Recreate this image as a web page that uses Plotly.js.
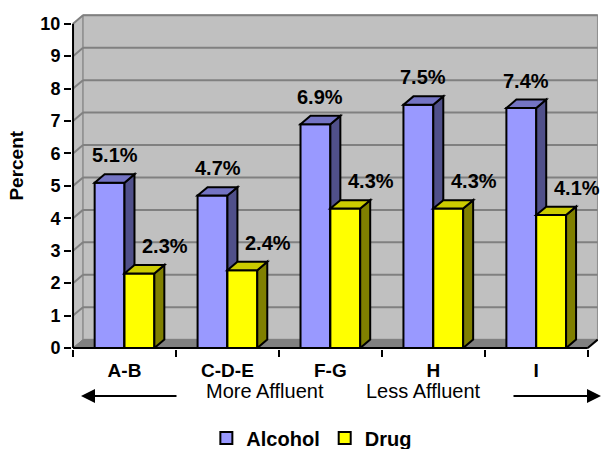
<!DOCTYPE html>
<html>
<head>
<meta charset="utf-8">
<script src="https://cdn.plot.ly/plotly-3.0.1.min.js"></script>
<style>html,body{margin:0;padding:0;background:#fff;}#chart{width:602px;height:449px;}</style>
</head>
<body>
<div id="chart"></div>
<script>
// ---- data ----
const categories = ['A-B', 'C-D-E', 'F-G', 'H', 'I'];
const alcohol = [5.1, 4.7, 6.9, 7.5, 7.4];
const drug = [2.3, 2.4, 4.3, 4.3, 4.1];
const seriesNames = ['Alcohol', 'Drug'];
const yTicks = [0, 1, 2, 3, 4, 5, 6, 7, 8, 9, 10];
const directionLabels = ['More Affluent', 'Less Affluent'];
const yTitle = 'Percent';

// ---- style constants ----
const DX = 0.097, DY = 0.26, BW = 0.29;
const FONT = 'Arial, "Liberation Sans", sans-serif';
const colors = {
  alcohol: {front: '#9999FF', side: '#50508A', top: '#7474C4'},
  drug: {front: '#FFFF00', side: '#808000', top: '#CCCC00'}
};
const xIdx = categories.map((_, i) => i);
const yMax = yTicks[yTicks.length - 1];
const bold = s => '<b>' + s + '</b>';

const traces = [
  {type: 'bar', name: bold(seriesNames[0]), x: xIdx, y: alcohol, offset: -BW, width: BW,
   marker: {color: colors.alcohol.front, line: {color: '#000', width: 2}}, hoverinfo: 'skip'},
  {type: 'bar', name: bold(seriesNames[1]), x: xIdx, y: drug, offset: 0, width: BW,
   marker: {color: colors.drug.front, line: {color: '#000', width: 2}}, hoverinfo: 'skip'}
];

const shapes = [];
const x0w = -0.5, x1w = categories.length - 0.5;
// walls
shapes.push({type: 'path', layer: 'below', path: `M${x0w},0 L${x0w},${yMax} L${x0w+DX},${yMax+DY} L${x0w+DX},${DY} Z`,
  fillcolor: '#C0C0C0', line: {color: '#808080', width: 1}});
shapes.push({type: 'rect', layer: 'below', x0: x0w+DX, x1: x1w+DX, y0: DY, y1: yMax+DY,
  fillcolor: '#C0C0C0', line: {color: '#909090', width: 1.5}});
shapes.push({type: 'path', layer: 'below', path: `M${x0w},0 L${x1w},0 L${x1w+DX},${DY} L${x0w+DX},${DY} Z`,
  fillcolor: '#808080', line: {color: '#808080', width: 1}});
yTicks.forEach(k => {
  if (k === 0) return;
  shapes.push({type: 'line', layer: 'below', x0: x0w+DX, x1: x1w+DX, y0: k+DY, y1: k+DY, line: {color: '#808080', width: 2}});
  shapes.push({type: 'line', layer: 'below', x0: x0w, x1: x0w+DX, y0: k, y1: k+DY, line: {color: '#808080', width: 2}});
});
// axis lines
shapes.push({type: 'line', layer: 'above', x0: x0w, x1: x0w, y0: 0, y1: yMax, line: {color: '#000', width: 2}});
shapes.push({type: 'line', layer: 'above', x0: x0w, x1: x1w, y0: 0, y1: 0, line: {color: '#000', width: 2}});
shapes.push({type: 'line', layer: 'above', x0: x1w, x1: x1w+DX, y0: 0, y1: DY, line: {color: '#000', width: 2}});

function faces(xa, xb, v, c, withFront) {
  const out = [];
  if (withFront) out.push({type: 'rect', layer: 'above', x0: xa, x1: xb, y0: 0, y1: v, fillcolor: c.front, line: {color: '#000', width: 2}});
  out.push({type: 'path', layer: 'above', path: `M${xb},0 L${xb},${v} L${xb+DX},${v+DY} L${xb+DX},${DY} Z`, fillcolor: c.side, line: {color: '#000', width: 2}});
  out.push({type: 'path', layer: 'above', path: `M${xa},${v} L${xa+DX},${v+DY} L${xb+DX},${v+DY} L${xb},${v} Z`, fillcolor: c.top, line: {color: '#000', width: 2}});
  return out;
}
xIdx.forEach(i => {
  shapes.push(...faces(i - BW, i, alcohol[i], colors.alcohol, false));
  shapes.push(...faces(i, i + BW, drug[i], colors.drug, true));
});

const annotations = [];
const lblFont = {family: FONT, size: 20, color: '#000'};
xIdx.forEach(i => {
  annotations.push({x: i - BW/2 + DX/2, y: alcohol[i] + DY, xref: 'x', yref: 'y', text: bold(alcohol[i].toFixed(1) + '%'),
    showarrow: false, xanchor: 'center', yanchor: 'bottom', yshift: 6, font: lblFont});
  annotations.push({x: i + BW/2 + DX/2, y: drug[i] + DY, xref: 'x', yref: 'y', text: bold(drug[i].toFixed(1) + '%'),
    showarrow: false, xanchor: 'center', yanchor: 'bottom', yshift: 6, xshift: 21, font: lblFont});
});
annotations.push({x: 0.366, y: -0.126, xref: 'paper', yref: 'paper', text: directionLabels[0], showarrow: false,
  xanchor: 'center', yanchor: 'middle', font: {family: FONT, size: 20, color: '#000'}});
annotations.push({x: 0.669, y: -0.126, xref: 'paper', yref: 'paper', text: directionLabels[1], showarrow: false,
  xanchor: 'center', yanchor: 'middle', font: {family: FONT, size: 20, color: '#000'}});
annotations.push({x: 0.0171, y: -0.1403, xref: 'paper', yref: 'paper', text: '', showarrow: true, ax: 97, ay: 0,
  arrowhead: 2, arrowsize: 1.4, arrowwidth: 2, arrowcolor: '#000', standoff: 0, startstandoff: 0});
annotations.push({x: 1.0057, y: -0.1403, xref: 'paper', yref: 'paper', text: '', showarrow: true, ax: -89, ay: 0,
  arrowhead: 2, arrowsize: 1.4, arrowwidth: 2, arrowcolor: '#000', standoff: 0, startstandoff: 0});
annotations.push({x: -0.1055, y: 0.546, xref: 'paper', yref: 'paper', text: bold(yTitle), textangle: -90, showarrow: false,
  xanchor: 'center', yanchor: 'middle', font: {family: FONT, size: 19, color: '#000'}});

const layout = {
  width: 602, height: 449,
  margin: {l: 72, r: 4, t: 14, b: 100, autoexpand: false},
  paper_bgcolor: '#fff', plot_bgcolor: '#fff',
  barmode: 'overlay',
  showlegend: true,
  legend: {orientation: 'h', x: 0.456, xanchor: 'center', y: -0.266, yanchor: 'middle',
    font: {family: FONT, size: 20, color: '#000'}, itemwidth: 30, traceorder: 'normal'},
  xaxis: {range: [-0.51, 4.6], tickmode: 'array', tickvals: xIdx, ticktext: categories.map(bold), ticks: '',
    showgrid: false, zeroline: false, showline: false, ticklabelstandoff: 8, automargin: false,
    tickfont: {family: FONT, size: 19, color: '#000'},
    minor: {tickmode: 'linear', tick0: -0.5, dtick: 1, ticks: 'outside', ticklen: 7, tickwidth: 2, tickcolor: '#000', showgrid: false}},
  yaxis: {range: [-0.03, 10.3], tickmode: 'array', tickvals: yTicks, ticktext: yTicks.map(v => bold(String(v))),
    ticks: 'outside', ticklen: 7, tickwidth: 2, tickcolor: '#000', automargin: false,
    showgrid: false, zeroline: false, showline: false,
    tickfont: {family: FONT, size: 18, color: '#000'}},
  shapes: shapes,
  annotations: annotations
};

Plotly.newPlot('chart', traces, layout, {displayModeBar: false, staticPlot: true});
</script>
</body>
</html>
